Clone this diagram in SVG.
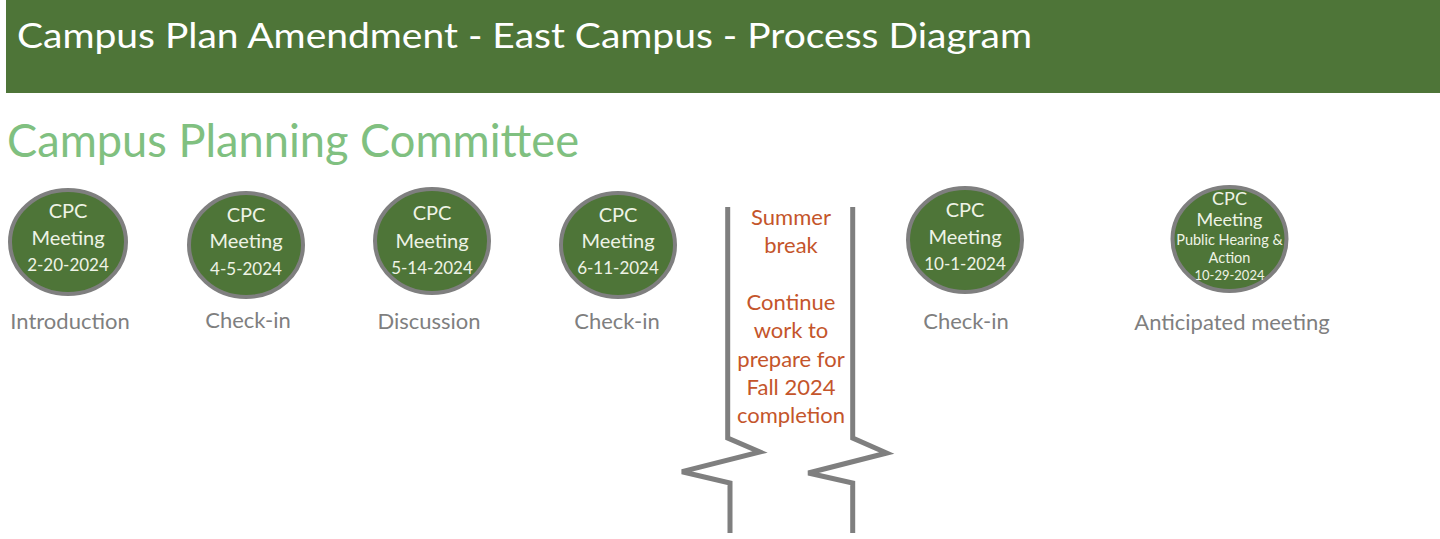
<svg xmlns="http://www.w3.org/2000/svg" width="1440" height="539" viewBox="0 0 1440 539">
<style>
text{font-family:Lato,"Open Sans","Liberation Sans",sans-serif}
.node{fill:#4e7538;stroke:#7f7f7f;stroke-width:4}
.in{fill:#eef3e6;text-anchor:middle;font-size:20px}
.dt{fill:#eef3e6;text-anchor:middle;font-size:17px}
.lbl{fill:#7f7f7f;text-anchor:middle;font-size:22px}
.brk{fill:none;stroke:#7f7f7f;stroke-width:5;stroke-linejoin:miter}
.sum{fill:#c4552b;text-anchor:middle;font-size:22px}
</style>
<rect x="6" y="0" width="1434" height="93" fill="#4e7538"/>
<text x="17" y="48" font-size="34" fill="#ffffff" textLength="1015" lengthAdjust="spacingAndGlyphs">Campus Plan Amendment - East Campus - Process Diagram</text>
<text x="7" y="157" font-size="46" fill="#80c080" textLength="572" lengthAdjust="spacingAndGlyphs">Campus Planning Committee</text>

<g id="n1">
<ellipse class="node" cx="68" cy="242" rx="58" ry="52"/>
<text class="in" x="68" y="218">CPC</text>
<text class="in" x="68" y="245">Meeting</text>
<text class="dt" x="68" y="271">2-20-2024</text>
<text class="lbl" x="70" y="329">Introduction</text>
</g>
<g id="n2">
<ellipse class="node" cx="246" cy="245" rx="57" ry="52"/>
<text class="in" x="246" y="222">CPC</text>
<text class="in" x="246" y="248">Meeting</text>
<text class="dt" x="246" y="275">4-5-2024</text>
<text class="lbl" x="248" y="328">Check-in</text>
</g>
<g id="n3">
<ellipse class="node" cx="432" cy="241" rx="57" ry="52"/>
<text class="in" x="432" y="220">CPC</text>
<text class="in" x="432" y="248">Meeting</text>
<text class="dt" x="432" y="274">5-14-2024</text>
<text class="lbl" x="429" y="329">Discussion</text>
</g>
<g id="n4">
<ellipse class="node" cx="618" cy="245" rx="57" ry="52"/>
<text class="in" x="618" y="222">CPC</text>
<text class="in" x="618" y="248">Meeting</text>
<text class="dt" x="618" y="274">6-11-2024</text>
<text class="lbl" x="617" y="329">Check-in</text>
</g>
<g id="break">
<path class="brk" d="M727.7,207 V438 L760,452 L682,471.7 L730,483 V533"/>
<path class="brk" d="M852.7,207 V438 L886.7,453 L808.3,473 L852.7,483 V533"/>
<text class="sum" x="791" y="225">Summer</text>
<text class="sum" x="791" y="253">break</text>
<text class="sum" x="791" y="310">Continue</text>
<text class="sum" x="791" y="338">work to</text>
<text class="sum" x="791" y="367">prepare for</text>
<text class="sum" x="791" y="395">Fall 2024</text>
<text class="sum" x="791" y="423">completion</text>
</g>
<g id="n5">
<ellipse class="node" cx="965" cy="240" rx="57" ry="52"/>
<text class="in" x="965" y="217">CPC</text>
<text class="in" x="965" y="244">Meeting</text>
<text class="dt" x="965" y="270">10-1-2024</text>
<text class="lbl" x="966" y="329">Check-in</text>
</g>
<g id="n6">
<ellipse class="node" cx="1229.5" cy="239" rx="57" ry="52"/>
<text x="1229.5" y="205" fill="#eef3e6" text-anchor="middle" font-size="18">CPC</text>
<text x="1229.5" y="226" fill="#eef3e6" text-anchor="middle" font-size="18">Meeting</text>
<text x="1229.5" y="245" fill="#eef3e6" text-anchor="middle" font-size="14.5">Public Hearing &amp;</text>
<text x="1229.5" y="263" fill="#eef3e6" text-anchor="middle" font-size="14.5">Action</text>
<text x="1229.5" y="280" fill="#eef3e6" text-anchor="middle" font-size="13">10-29-2024</text>
<text class="lbl" x="1232" y="330">Anticipated meeting</text>
</g>
</svg>
